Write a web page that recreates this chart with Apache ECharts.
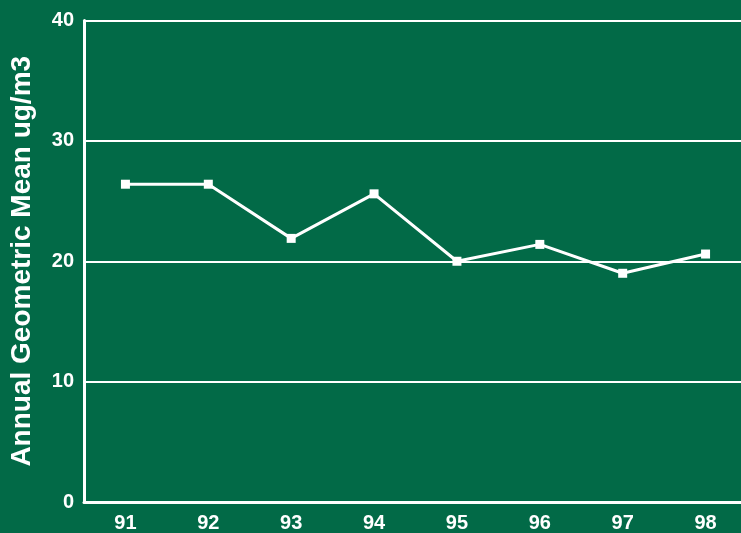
<!DOCTYPE html>
<html><head><meta charset="utf-8">
<style>html,body{margin:0;padding:0;background:#026a47;overflow:hidden;}#c{width:760px;height:533px;}</style>
<script src="https://cdn.jsdelivr.net/npm/echarts@6/dist/echarts.min.js"></script>
</head><body><div id="c"></div>
<script>
const categories = ['91','92','93','94','95','96','97','98'];
const values = [26.4, 26.4, 21.9, 25.6, 20.0, 21.4, 19.0, 20.6];
const yTicks = [0, 10, 20, 30, 40];
const yName = 'Annual Geometric Mean ug/m3';

const chart = echarts.init(document.getElementById('c'), null, {renderer: 'canvas'});
chart.setOption({
  backgroundColor: '#026a47',
  animation: false,
  grid: {left: 83, top: 20.5, width: 664, height: 486, containLabel: false},
  xAxis: {
    type: 'category', data: categories, boundaryGap: true,
    axisLine: {lineStyle: {color: '#fff', width: 3}},
    axisTick: {alignWithLabel: true, inside: true, length: 12, lineStyle: {color: '#fff', width: 2}},
    axisLabel: {color: '#fff', fontWeight: 'bold', fontSize: 20, fontFamily: 'Liberation Sans, Arial', margin: 11}
  },
  yAxis: {
    type: 'value', min: yTicks[0], max: yTicks[yTicks.length-1], interval: 10,
    name: yName, nameLocation: 'middle', nameGap: 48, nameRotate: 90,
    nameTextStyle: {color: '#fff', fontWeight: 'bold', fontSize: 28, fontFamily: 'Liberation Sans, Arial'},
    axisLine: {show: true, lineStyle: {color: '#fff', width: 3}},
    axisTick: {show: false},
    axisLabel: {color: '#fff', fontWeight: 'bold', fontSize: 20, fontFamily: 'Liberation Sans, Arial', margin: 10},
    splitLine: {show: true, lineStyle: {color: '#fff', width: 2}}
  },
  series: [{
    type: 'line', data: values,
    symbol: 'rect', symbolSize: 9, showAllSymbol: true,
    lineStyle: {color: '#fff', width: 3},
    itemStyle: {color: '#fff'}
  }]
});
</script></body></html>
